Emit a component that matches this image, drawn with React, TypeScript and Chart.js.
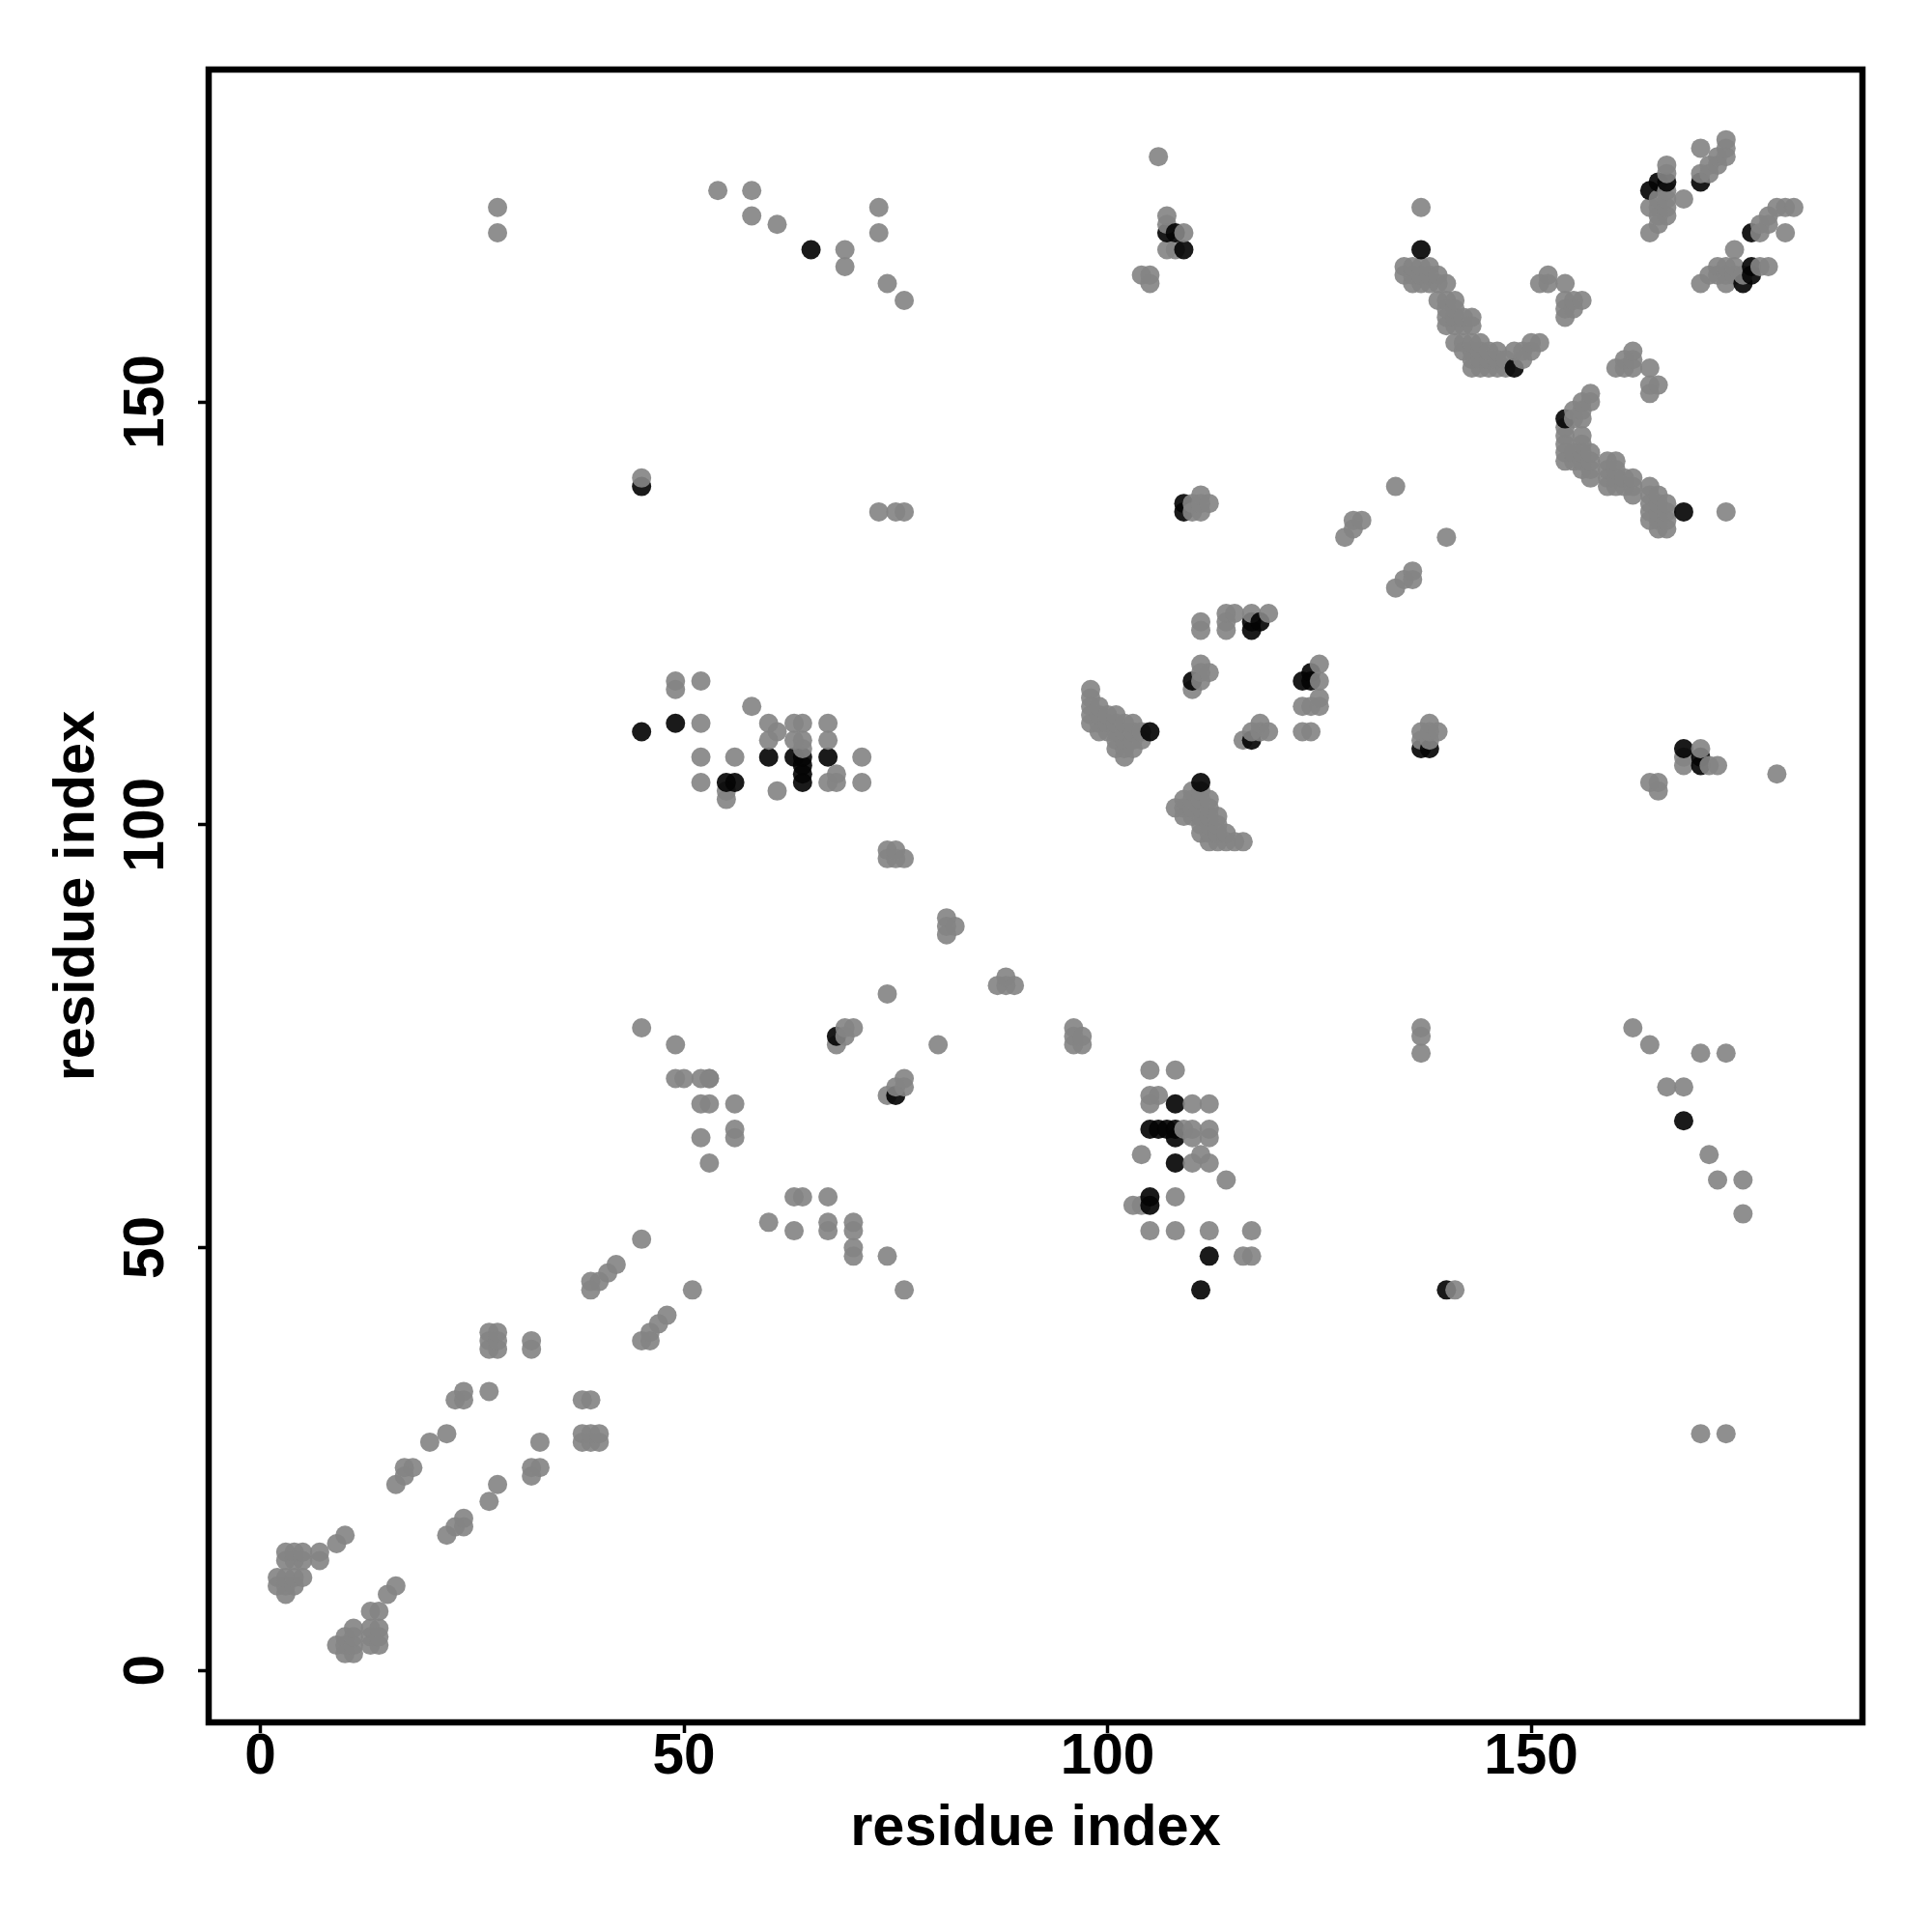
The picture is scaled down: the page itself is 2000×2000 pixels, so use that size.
import React, { useEffect, useRef } from "react";
import { Chart, registerables } from "chart.js";

Chart.register(...registerables);

type Pair = [number, number];

const tickStep = 50;
const xTitle = "residue index";
const yTitle = "residue index";
const xLimits: Pair = [-6.1, 189.1];
const yLimits: Pair = [-6.13, 189.3];

const strongContacts: Pair[] = [
  [45,140],[45,111],[49,112],[55,105],[56,105],[60,108],[63,108],[64,108],[64,107],[64,106],[64,105],[67,108],
  [65,168],[68,75],[75,68],[105,64],[106,64],[107,64],[108,64],[108,63],[108,67],[108,60],[105,56],[105,55],
  [112,49],[111,45],[140,45],[168,65],[105,111],[111,105],[110,117],[117,110],[117,124],[118,124],[117,123],
  [123,117],[124,117],[124,118],[137,109],[138,109],[109,138],[109,137],[107,170],[108,170],[109,168],[137,168],
  [148,154],[154,148],[168,137],[168,109],[170,108],[170,107],[164,175],[165,176],[166,176],[170,176],[176,170],
  [176,166],[176,165],[175,164],
];

const lowerDiagonal: Pair[] = [
  [3,14],[4,14],[5,14],[3,13],[4,13],[5,13],[7,14],[7,13],[9,15],[10,16],[2,11],[2,10],[3,11],[3,10],[3,9],
  [4,11],[4,10],[5,11],[9,3],[10,4],[10,3],[10,2],[11,5],[11,4],[11,3],[11,2],[13,7],[14,7],[13,5],[14,5],
  [13,4],[14,4],[13,3],[14,3],[15,9],[16,10],[22,16],[23,17],[24,17],[24,18],[27,20],[28,22],[32,23],[32,24],
  [33,24],[33,27],[38,32],[39,32],[38,28],[39,28],[40,28],[38,27],[39,27],[40,27],[16,22],[17,23],[17,24],
  [18,24],[20,27],[22,28],[23,32],[24,32],[24,33],[27,33],[27,40],[28,40],[27,39],[28,39],[27,38],[28,38],
  [32,39],[32,38],[45,39],[46,39],[46,40],[47,41],[48,42],[51,45],[39,45],[39,46],[40,46],[41,47],[42,48],
];

const firstBand: Pair[] = [
  [45,51],[60,53],[63,52],[63,56],[64,56],[67,56],[67,53],[67,52],[70,53],[70,52],[70,50],[70,49],[74,49],[76,45],
  [45,76],[49,74],[49,70],[50,70],[52,70],[53,70],[53,70],[52,67],[53,67],[52,63],[53,60],[56,67],[56,64],[56,63],
  [68,74],[69,75],[69,76],[70,76],[74,80],[80,74],[74,68],[75,69],[76,69],[76,70],
  [81,89],[82,88],[81,87],[81,88],[87,81],[88,82],[88,81],[89,81],[96,76],[96,75],[97,75],[96,74],[97,74],
  [74,97],[75,97],[74,96],[75,96],[76,96],
];

const lowerRightBlock: Pair[] = [
  [105,71],[108,71],[105,68],[106,68],[105,67],[110,67],[112,67],[109,64],[110,64],[112,64],[110,63],[112,63],
  [104,61],[110,60],[112,60],[111,61],[114,58],[108,56],[103,55],[104,55],[105,52],[108,52],[112,52],[117,52],
  [116,49],[117,49],[141,45],[137,76],[137,75],[137,73],[162,76],[164,74],[170,73],[173,73],[166,69],[168,69],
  [171,61],[172,58],[175,58],[175,54],[170,28],[173,28],
];

const middleLeftBlock: Pair[] = [
  [58,114],[60,112],[63,112],[64,112],[67,112],[61,111],[60,110],[63,110],[64,110],[64,109],[67,110],[56,108],
  [71,108],[55,104],[55,103],[61,104],[67,105],[68,105],[68,106],[71,105],[49,117],[49,116],[52,117],[52,112],
  [52,108],[52,105],[45,141],
];

const middleBlock: Pair[] = [
  [111,124],[111,123],[114,125],[115,125],[114,124],[114,123],[117,125],[119,125],[111,119],[112,118],[111,118],
  [111,117],[110,116],[98,116],[98,115],[98,114],[98,113],[98,112],[99,114],[99,113],[99,112],[99,111],[100,113],
  [100,112],[100,111],[101,113],[101,112],[101,111],[101,110],[101,109],[102,112],[102,111],[102,110],[102,109],
  [102,108],[103,112],[103,111],[103,110],[103,109],[104,111],[104,110],[110,104],[111,104],[109,103],[110,103],
  [111,103],[112,103],[108,102],[109,102],[110,102],[111,102],[112,102],[113,101],[109,101],[110,101],[111,101],
  [112,101],[111,100],[112,100],[113,100],[111,99],[112,99],[113,99],[114,99],[112,98],[113,98],[114,98],[115,98],
  [116,98],[118,112],[117,111],[118,111],[119,111],[116,110],[125,119],[125,117],[125,115],[123,114],[124,114],
  [125,114],[123,111],[124,111],[111,139],[112,138],[111,138],[110,138],[110,137],[111,137],[138,112],[137,111],
  [138,111],[139,111],[137,110],[138,110],[168,108],[168,107],[170,109],[171,107],[172,107],[179,106],[164,105],
  [165,105],[165,104],[73,137],[75,137],[76,137],[128,134],[129,135],[129,136],[130,136],[134,140],[134,128],
  [135,129],[136,129],[136,130],[140,134],[173,137],
];

const topLeftBlock: Pair[] = [
  [28,173],[28,170],[54,175],[58,175],[58,172],[61,171],[69,168],[69,166],[73,173],[73,170],[74,164],[76,162],
  [106,179],[107,172],[107,171],[109,170],[107,168],[108,168],[104,165],[105,165],[105,164],[137,173],
];

const upperRightStrand: Pair[] = [
  [135,166],[136,166],[137,166],[138,166],[135,165],[136,165],[137,165],[138,165],[139,165],[136,164],[137,164],
  [138,164],[139,164],[140,164],[139,162],[140,162],[141,162],[140,161],[141,161],[140,160],[141,160],[142,160],
  [143,160],[140,159],[141,159],[142,159],[143,159],[141,157],[142,157],[143,157],[144,157],[142,156],[143,156],
  [144,156],[145,156],[146,156],[148,156],[149,156],[143,155],[144,155],[145,155],[146,155],[147,155],[149,155],
  [143,154],[144,154],[145,154],[146,154],[147,154],[150,157],[151,157],[150,156],[152,165],[151,164],[152,164],
  [154,164],[154,162],[155,162],[156,162],[154,161],[155,161],[154,160],[162,156],[161,155],[162,155],[160,154],
  [161,154],[162,154],[164,154],[164,152],[165,152],[164,151],
];

const farRightStrand: Pair[] = [
  [157,151],[156,150],[157,150],[155,149],[156,149],[155,148],[156,148],[154,147],[154,146],[154,145],[154,144],
  [154,143],[156,146],[156,145],[155,144],[156,144],[155,143],[156,143],[156,142],[157,144],[157,143],[157,142],
  [157,141],[159,143],[160,143],[159,142],[160,142],[159,141],[160,141],[159,140],[160,140],[161,141],[161,140],
  [162,141],[162,140],[162,139],[164,140],[164,139],[165,139],[164,138],[165,138],[166,138],[164,137],[165,137],
  [166,137],[164,136],[165,136],[166,136],[165,135],[166,135],
];

const topRightCorner: Pair[] = [
  [170,180],[173,181],[173,180],[173,179],[172,179],[172,178],[171,178],[171,177],[170,177],[166,178],[166,177],
  [164,173],[164,170],[165,174],[165,173],[165,172],[165,171],[166,175],[166,174],[166,173],[166,172],[168,174],
  [181,173],[180,173],[179,173],[178,172],[177,171],[178,171],[177,170],[180,170],[174,168],[178,166],[177,166],
  [172,166],[173,166],[174,166],[171,165],[172,165],[173,165],[174,165],[175,165],[170,164],[173,164],
];

const plainContacts: Pair[] = [
  ...lowerDiagonal, ...firstBand, ...lowerRightBlock, ...middleLeftBlock, ...middleBlock,
  ...topLeftBlock, ...upperRightStrand, ...farRightStrand, ...topRightCorner,
];

const GREY = "rgba(132,132,132,0.915)";
const DARK = "rgba(4,4,4,0.915)";
const FONT = "'Liberation Sans', Arial, sans-serif";

export default function App() {
  const ref = useRef<HTMLCanvasElement>(null);

  useEffect(() => {
    const tagged = [
      ...plainContacts.map(([x, y]) => ({ x, y, colour: GREY })),
      ...strongContacts.map(([x, y]) => ({ x, y, colour: DARK })),
    ].sort((a, b) => a.x - b.x || a.y - b.y);

    const frame = {
      id: "frame",
      afterDatasetsDraw(chart: any) {
        const { ctx, chartArea: a } = chart;
        ctx.save();
        ctx.lineWidth = 6.5;
        ctx.strokeStyle = "#000";
        ctx.strokeRect(a.left, a.top, a.right - a.left, a.bottom - a.top);
        ctx.restore();
      },
    };

    const tickFont = { family: FONT, size: 58.5, weight: "bold" as const, lineHeight: 1 };
    const titleFont = { family: FONT, size: 59.5, weight: "bold" as const, lineHeight: 1 };

    const chart = new Chart(ref.current!, {
      type: "scatter",
      data: {
        datasets: [
          {
            data: tagged.map(({ x, y }) => ({ x, y })),
            pointBackgroundColor: tagged.map((p) => p.colour),
            pointBorderWidth: 0,
            pointRadius: 10,
          },
        ],
      },
      plugins: [frame],
      options: {
        animation: false,
        responsive: false,
        layout: { padding: { top: 72, right: 72, left: 0, bottom: 0 } },
        plugins: { legend: { display: false }, tooltip: { enabled: false } },
        scales: {
          x: {
            type: "linear",
            min: xLimits[0],
            max: xLimits[1],
            afterFit(s: any) { s.height = 217; },
            border: { display: false },
            grid: { drawOnChartArea: false, drawTicks: true, tickLength: 11, tickWidth: 3.5, tickColor: "#000" },
            ticks: { stepSize: tickStep, includeBounds: false, autoSkip: false, maxRotation: 0, minRotation: 0, padding: -3, color: "#000", font: tickFont },
            title: { display: true, text: xTitle, color: "#000", font: titleFont, padding: { top: 0, bottom: 77 } },
          },
          y: {
            type: "linear",
            min: yLimits[0],
            max: yLimits[1],
            afterFit(s: any) { s.width = 216; },
            border: { display: false },
            grid: { drawOnChartArea: false, drawTicks: true, tickLength: 11, tickWidth: 3.5, tickColor: "#000" },
            ticks: { stepSize: tickStep, includeBounds: false, autoSkip: false, minRotation: 90, maxRotation: 90, crossAlign: "center", padding: 3, color: "#000", font: tickFont },
            title: { display: true, text: yTitle, color: "#000", font: titleFont, padding: { top: 51, bottom: 0 } },
          },
        },
      } as any,
    });
    return () => chart.destroy();
  }, []);

  return (
    <div style={{ position: "absolute", left: 0, top: 0, width: 2000, height: 2000, background: "#fff" }}>
      <canvas ref={ref} width={2000} height={2000} style={{ display: "block", width: 2000, height: 2000 }} />
    </div>
  );
}
